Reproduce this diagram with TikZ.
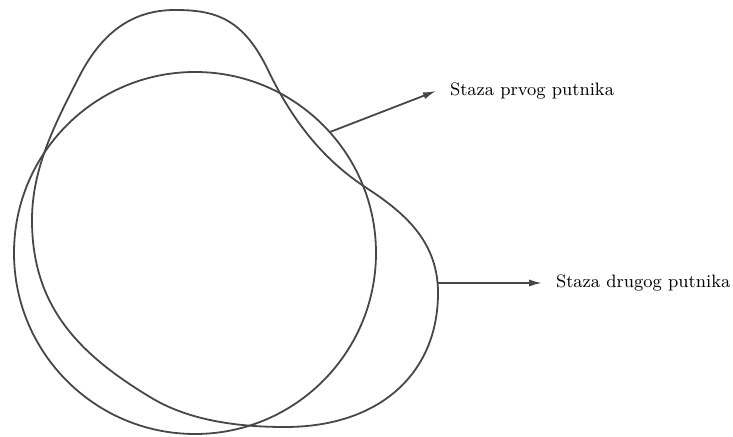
\documentclass[tikz,border=0pt]{standalone}
\usepackage{tikz}
\usetikzlibrary{arrows.meta, positioning, calc}
\tikzset{
  pathline/.style={
    draw=black!72, line width=0.9pt
  },
  patharrow/.style={
    -{Latex[length=6.5pt, width=3.6pt]}, draw=black!72, line width=0.9pt
  },
  pathlabel/.style={
    anchor=west, inner sep=0pt, outer sep=7pt,
    font=\fontsize{9}{11}\selectfont
  },
}
\begin{document}
\begin{tikzpicture}[x=0.5pt, y=-0.5pt]
  \useasboundingbox (0,0) rectangle (733,437);

  % === First traveller: round path ===
  \draw[pathline] (195,253) circle [radius=90.5pt];

  % === Second traveller: the blob ===
  \draw[pathline] (175,10)
    .. controls (215,10) and (243,18) .. (268,70)
    .. controls (291,118) and (321,158) .. (365,187)
    .. controls (407,214) and (438,243) .. (438,293)
    .. controls (438,373) and (380,427) .. (285,427)
    .. controls (239,427) and (189,421) .. (150,397)
    .. controls (77,353) and (32,305) .. (32,220)
    .. controls (32,167) and (56,122) .. (80,75)
    .. controls (101,35) and (130,10) .. (175,10) -- cycle;

  % === Labels ===
  \node[pathlabel] (prvi) at (436,91) {Staza prvog putnika};
  \node[pathlabel] (drugi) at (542,283) {Staza drugog putnika};

  % === Arrows ===
  \coordinate (p1) at (330,132);
  \coordinate (p2) at (438,283);
  \draw[patharrow] (p1) -- (prvi.west);
  \draw[patharrow] (p2) -- (drugi.west);

\end{tikzpicture}
\end{document}
